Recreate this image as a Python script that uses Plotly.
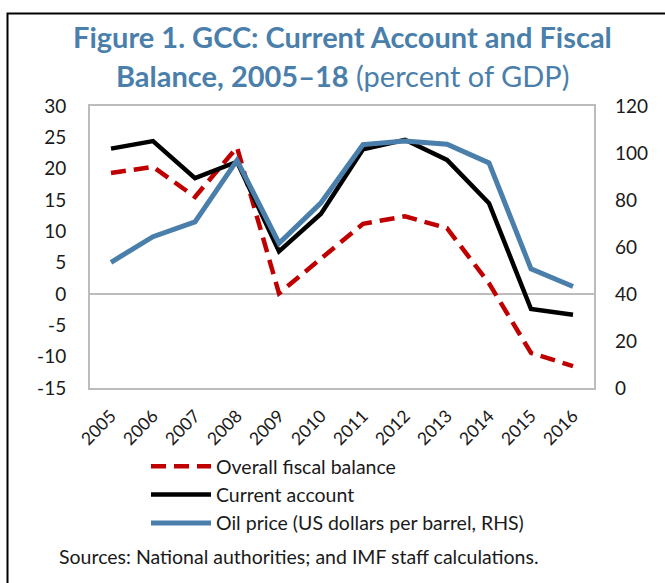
import plotly.graph_objects as go

years = ["2005", "2006", "2007", "2008", "2009", "2010", "2011", "2012", "2013", "2014", "2015", "2016"]
fiscal_balance = [19.3, 20.3, 15.5, 23.4, 0.1, 5.7, 11.2, 12.4, 10.5, 1.7, -9.4, -11.5]
current_account = [23.2, 24.4, 18.5, 21.1, 6.8, 12.8, 23.1, 24.6, 21.4, 14.5, -2.4, -3.3]
oil_price = [53.5, 64.4, 70.7, 96.9, 61.6, 78.8, 103.6, 105.1, 103.7, 95.8, 50.7, 43.2]
boundaries = [0.5, 1.5, 2.5, 3.5, 4.5, 5.5, 6.5, 7.5, 8.5, 9.5, 10.5]
left_ticks = [-15, -10, -5, 0, 5, 10, 15, 20, 25, 30]
left_tick_text = ["-15", "-10", "-5", "0", "5", "10", "15", "20", "25", "30"]

FONT = "Lato"
BLUE = "#4a7fab"
GRAY = "#bcbcbc"

W, H = 665, 583
L, R, T, B = 90, 594, 106, 388

def px(x):
    return (x - L) / (R - L)

def py(y):
    return (B - y) / (B - T)

fig = go.Figure()
fig.add_trace(go.Scatter(x=years, y=fiscal_balance, mode="lines", name="Overall fiscal balance",
                         line=dict(color="#c00000", width=4.5, dash="15px,8px")))
fig.add_trace(go.Scatter(x=years, y=current_account, mode="lines", name="Current account",
                         line=dict(color="#000000", width=4.5)))
fig.add_trace(go.Scatter(x=years, y=oil_price, mode="lines", name="Oil price (US dollars per barrel, RHS)",
                         line=dict(color=BLUE, width=5), yaxis="y2"))

fig.update_layout(
    width=W, height=H,
    margin=dict(l=L, r=W - R, t=T, b=H - B),
    paper_bgcolor="white", plot_bgcolor="white",
    font=dict(family=FONT, size=19, color="#1a1a1a"),
    showlegend=True,
    legend=dict(x=px(146), y=py(447), xanchor="left", yanchor="top",
                font=dict(family=FONT, size=19.5, color="#1a1a1a"),
                bgcolor="rgba(0,0,0,0)", itemwidth=60, tracegroupgap=0),
    xaxis=dict(type="category", range=[-0.5, 11.5], tickangle=-45,
               showline=True, linecolor=GRAY, linewidth=2, mirror=True,
               showgrid=False, ticks="", ticklabelstandoff=9, tickfont=dict(size=17.5)),
    xaxis2=dict(overlaying="x", side="top", anchor="free", position=1/3,
                range=[-0.5, 11.5], tickmode="array", tickvals=boundaries,
                ticks="outside", ticklen=7, tickwidth=1.5, tickcolor=GRAY,
                showticklabels=False, showline=False, showgrid=False, zeroline=False),
    yaxis=dict(range=[-15, 30], tickmode="array", tickvals=left_ticks, ticktext=left_tick_text,
               showgrid=False, zeroline=True, zerolinecolor=GRAY, zerolinewidth=2,
               showline=True, linecolor=GRAY, linewidth=2, mirror=True,
               ticks="", ticklabelstandoff=18, tickfont=dict(size=19)),
    yaxis2=dict(overlaying="y", side="right", range=[0, 120], dtick=20,
                showgrid=False, zeroline=False, showline=False,
                ticks="", ticklabelstandoff=20, tickfont=dict(size=19)),
)

fig.add_annotation(xref="paper", yref="paper", x=0.5, y=py(37), xanchor="center", yanchor="middle",
                   text="<b>Figure 1. GCC: Current Account and Fiscal</b>", showarrow=False,
                   font=dict(family=FONT, size=29, color=BLUE))
fig.add_annotation(xref="paper", yref="paper", x=0.5, y=py(75), xanchor="center", yanchor="middle",
                   text="<b>Balance, 2005–18</b> (percent of GDP)", showarrow=False,
                   font=dict(family=FONT, size=29, color=BLUE))
fig.add_annotation(xref="paper", yref="paper", x=px(57), y=py(556), xanchor="left", yanchor="middle",
                   text="Sources: National authorities; and IMF staff calculations.", showarrow=False,
                   font=dict(family=FONT, size=19.5, color="#1a1a1a"))

fig.add_shape(type="rect", xref="paper", yref="paper",
              x0=px(7.5), x1=px(680), y0=py(600), y1=py(13.5),
              line=dict(color="black", width=2), fillcolor="rgba(0,0,0,0)", layer="above")

fig.write_html("out.html", config={"displayModeBar": False},
               post_script="document.body.style.margin='0px';")
